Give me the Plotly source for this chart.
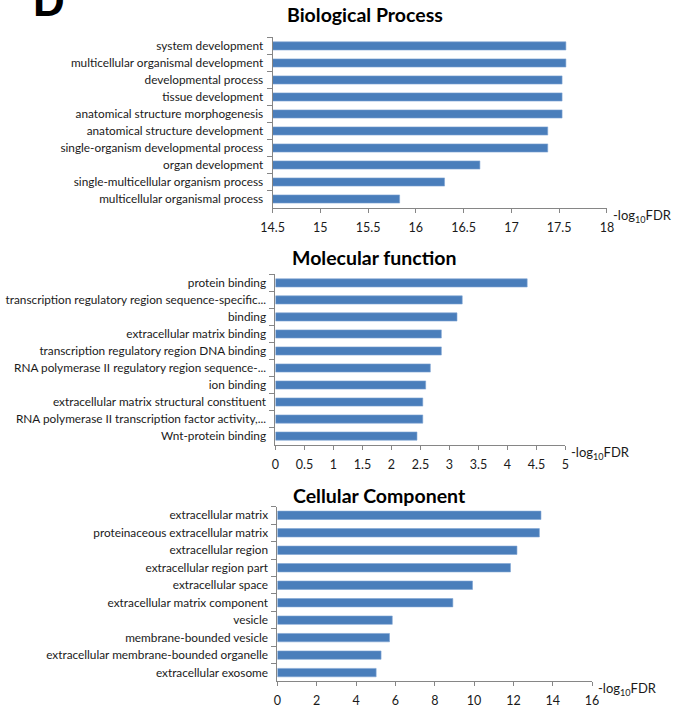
import plotly.graph_objects as go

# GO enrichment terms and their -log10(FDR) scores
bp_terms = [
    "system development",
    "multicellular organismal development",
    "developmental process",
    "tissue development",
    "anatomical structure morphogenesis",
    "anatomical structure development",
    "single-organism developmental process",
    "organ development",
    "single-multicellular organism process",
    "multicellular organismal process",
]
bp_values = [17.57, 17.57, 17.53, 17.53, 17.53, 17.38, 17.38, 16.67, 16.30, 15.83]

mf_terms = [
    "protein binding",
    "transcription regulatory region sequence-specific...",
    "binding",
    "extracellular matrix binding",
    "transcription regulatory region DNA binding",
    "RNA polymerase II regulatory region sequence-...",
    "ion binding",
    "extracellular matrix structural constituent",
    "RNA polymerase II transcription factor activity,...",
    "Wnt-protein binding",
]
mf_values = [4.34, 3.22, 3.13, 2.86, 2.86, 2.67, 2.59, 2.54, 2.54, 2.44]

cc_terms = [
    "extracellular matrix",
    "proteinaceous extracellular matrix",
    "extracellular region",
    "extracellular region part",
    "extracellular space",
    "extracellular matrix component",
    "vesicle",
    "membrane-bounded vesicle",
    "extracellular membrane-bounded organelle",
    "extracellular exosome",
]
cc_values = [13.40, 13.32, 12.18, 11.85, 9.92, 8.92, 5.84, 5.70, 5.27, 5.02]

panel_titles = ["Biological Process", "Molecular function", "Cellular Component"]
x_ranges = [[14.5, 18], [0, 5], [0, 16]]
x_dticks = [0.5, 0.5, 2]

W, H = 683, 708
# plot-area boxes in pixels: (left, right, top, bottom)
boxes = [
    (268, 612, 37.5, 207.8),
    (271, 569.3, 274.8, 445.2),
    (273, 596.7, 507.3, 682.3),
]
title_pos = [(363, 15), (372, 258), (378, 496)]

BAR = "#4a7ebb"
AXIS = "#868686"
FONT = "Lato"
TXT = "#1a1a1a"

fig = go.Figure()
datasets = [(bp_terms, bp_values), (mf_terms, mf_values), (cc_terms, cc_values)]

for i, (terms, vals) in enumerate(datasets):
    n = "" if i == 0 else str(i + 1)
    fig.add_trace(go.Bar(
        x=vals, y=terms, orientation="h",
        marker=dict(color=BAR, line=dict(color="#7fa4d3", width=0.6)),
        xaxis="x" + n, yaxis="y" + n,
        hoverinfo="x+y", showlegend=False,
    ))
    l, r, t, b = boxes[i]
    fig.layout["xaxis" + n] = dict(
        domain=[l / W, r / W], anchor="y" + n,
        range=x_ranges[i], dtick=x_dticks[i], tick0=0,
        showgrid=False, zeroline=False,
        showline=True, linecolor=AXIS, linewidth=1,
        ticks="outside", ticklen=4, tickcolor=AXIS,
        ticklabelstandoff=4,
        tickfont=dict(family=FONT, size=12.5, color=TXT),
        fixedrange=True,
    )
    fig.layout["yaxis" + n] = dict(
        domain=[1 - b / H, 1 - t / H], anchor="x" + n,
        autorange="reversed", type="category",
        showgrid=False, zeroline=False,
        showline=True, linecolor=AXIS, linewidth=1,
        ticks="outside", ticklen=5, tickcolor=AXIS, tickson="boundaries",
        ticklabelstandoff=6,
        tickfont=dict(family=FONT, size=11.8, color=TXT),
        fixedrange=True,
    )
    tx, ty = title_pos[i]
    fig.add_annotation(
        text="<b>" + panel_titles[i] + "</b>",
        x=tx / W, y=1 - ty / H, xref="paper", yref="paper",
        xanchor="center", yanchor="middle", showarrow=False,
        font=dict(family=FONT, size=19.5, color="#000000"),
    )
    fig.add_annotation(
        text="-log<sub>10</sub>FDR",
        x=1, y=0, xref="x" + n + " domain", yref="y" + n + " domain",
        xanchor="left", yanchor="middle", xshift=4, yshift=-8,
        showarrow=False,
        font=dict(family=FONT, size=13, color=TXT),
    )

# panel letter in the top-left corner
fig.add_annotation(
    text="<b>D</b>", x=38 / W, y=1 - 15 / H, xref="paper", yref="paper",
    xanchor="center", yanchor="bottom", yshift=-12, showarrow=False,
    font=dict(family="Liberation Sans", size=44, color="#000000"),
)

fig.update_layout(
    width=W, height=H,
    margin=dict(l=0, r=0, t=0, b=0),
    paper_bgcolor="white", plot_bgcolor="white",
    bargap=0.52,
)

fig.write_html("out.html")
